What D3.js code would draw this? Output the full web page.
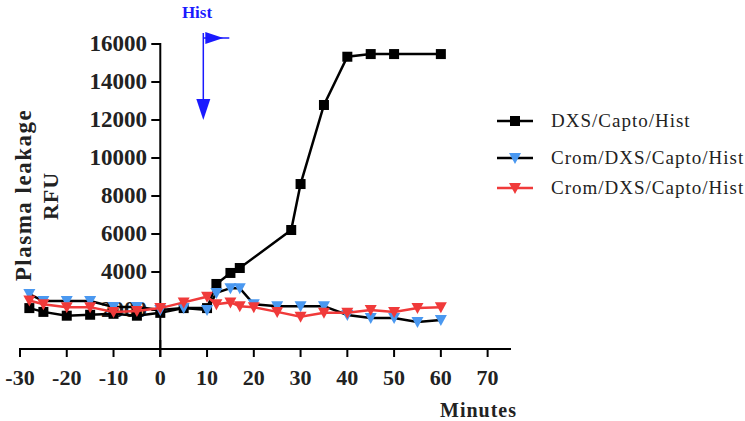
<!doctype html>
<html>
<head>
<meta charset="utf-8">
<script src="https://cdn.jsdelivr.net/npm/d3@7"></script>
<style>
  body { margin: 0; background: #fff; }
  text { font-family: "Liberation Serif", "Times New Roman", serif; }
</style>
</head>
<body>
<script>
// data
var dxsMinutes = [-28, -25, -20, -15, -10, -5, 0, 5, 10, 12, 15, 17, 28, 30, 35, 40, 45, 50, 60]
var dxsValues = [2100, 1900, 1700, 1750, 1800, 1700, 1850, 2100, 2100, 3370, 3950, 4210, 6210, 8630, 12790, 15330, 15470, 15470, 15470]
var cromMinutes = [-28, -25, -20, -15, -10, -5, 0, 5, 10, 12, 15, 17, 20, 25, 30, 35, 40, 45, 50, 55, 60]
var cromBlue = [2840, 2470, 2470, 2470, 2160, 2160, 2000, 2100, 2000, 2900, 3150, 3150, 2300, 2200, 2200, 2200, 1740, 1580, 1580, 1370, 1470]
var cromRed = [2500, 2300, 2150, 2150, 1900, 1950, 2100, 2400, 2700, 2300, 2400, 2200, 2150, 1900, 1650, 1850, 1850, 2000, 1900, 2100, 2150]
var xTicks = [-30, -20, -10, 0, 10, 20, 30, 40, 50, 60, 70]
var yTicks = [2000, 4000, 6000, 8000, 10000, 12000, 14000, 16000]
var legendLabels = ["DXS/Capto/Hist", "Crom/DXS/Capto/Hist", "Crom/DXS/Capto/Hist"]

var width = 745
var height = 421
var svg = d3.select("body").append("svg")
	.attr("width", width)
	.attr("height", height)

var x = d3.scaleLinear().domain([-30, 75]).range([20, 511])
var y = d3.scaleLinear().domain([0, 16000]).range([348, 44])

// y tick labels (drawn first so the data covers the 2000 label)
svg.selectAll(".ylab")
	.data(yTicks)
	.enter()
	.append("text")
	.attr("x", 147)
	.attr("y", function(d) { return y(d) + 7 })
	.attr("text-anchor", "end")
	.attr("font-size", 23)
	.attr("font-weight", "bold")
	.attr("fill", "#222")
	.text(function(d) { return d })

// y axis
svg.append("line")
	.attr("x1", x(0)).attr("x2", x(0))
	.attr("y1", y(16000) - 1).attr("y2", y(0) + 2)
	.attr("stroke", "#000").attr("stroke-width", 2)
svg.selectAll(".ytick")
	.data(yTicks)
	.enter()
	.append("line")
	.attr("x1", x(0) - 9).attr("x2", x(0))
	.attr("y1", function(d) { return y(d) }).attr("y2", function(d) { return y(d) })
	.attr("stroke", "#000").attr("stroke-width", 2)

// x axis
svg.append("line")
	.attr("x1", x(-30) - 1).attr("x2", x(75))
	.attr("y1", y(0) + 1).attr("y2", y(0) + 1)
	.attr("stroke", "#000").attr("stroke-width", 2)
svg.selectAll(".xtick")
	.data(xTicks)
	.enter()
	.append("line")
	.attr("x1", function(d) { return x(d) }).attr("x2", function(d) { return x(d) })
	.attr("y1", y(0)).attr("y2", y(0) + 9)
	.attr("stroke", "#000").attr("stroke-width", 2)
svg.append("line")
	.attr("x1", x(0)).attr("x2", x(0))
	.attr("y1", y(0) - 8).attr("y2", y(0) + 9)
	.attr("stroke", "#000").attr("stroke-width", 2)
svg.selectAll(".xlab")
	.data(xTicks)
	.enter()
	.append("text")
	.attr("x", function(d) { return x(d) })
	.attr("y", 385)
	.attr("text-anchor", "middle")
	.attr("font-size", 22)
	.attr("font-weight", "bold")
	.attr("fill", "#222")
	.text(function(d) { return d })

// axis titles
svg.append("text")
	.attr("x", 517).attr("y", 417)
	.attr("text-anchor", "end")
	.attr("font-size", 20)
	.attr("font-weight", "bold")
	.attr("letter-spacing", 1)
	.attr("fill", "#222")
	.text("Minutes")
svg.append("text")
	.attr("transform", "translate(31,195) rotate(-90)")
	.attr("text-anchor", "middle")
	.attr("font-size", 23)
	.attr("font-weight", "bold")
	.attr("letter-spacing", 1.5)
	.attr("fill", "#222")
	.text("Plasma leakage")
svg.append("text")
	.attr("transform", "translate(58,196) rotate(-90)")
	.attr("text-anchor", "middle")
	.attr("font-size", 22)
	.attr("font-weight", "bold")
	.attr("letter-spacing", 1)
	.attr("fill", "#222")
	.text("RFU")

var line = d3.line()
	.x(function(d) { return x(d[0]) })
	.y(function(d) { return y(d[1]) })

function triangle(g, cx, cy, color) {
	g.append("path")
		.attr("d", "M" + (cx - 6) + "," + (cy - 5) + "L" + (cx + 6) + "," + (cy - 5) + "L" + cx + "," + (cy + 6) + "Z")
		.attr("fill", color)
}

// DXS/Capto/Hist
var dxs = d3.zip(dxsMinutes, dxsValues)
svg.append("path")
	.datum(dxs)
	.attr("d", line)
	.attr("fill", "none").attr("stroke", "#000").attr("stroke-width", 2.5)
svg.selectAll(".sq")
	.data(dxs)
	.enter()
	.append("rect")
	.attr("x", function(d) { return x(d[0]) - 5 })
	.attr("y", function(d) { return y(d[1]) - 5 })
	.attr("width", 10).attr("height", 10)
	.attr("fill", "#000")

// Crom (blue markers, black line)
var blue = d3.zip(cromMinutes, cromBlue)
svg.append("path")
	.datum(blue)
	.attr("d", line)
	.attr("fill", "none").attr("stroke", "#000").attr("stroke-width", 2.5)
var gb = svg.append("g")
blue.forEach(function(d) { triangle(gb, x(d[0]), y(d[1]), "#4a98f0") })

// Crom (red)
var red = d3.zip(cromMinutes, cromRed)
svg.append("path")
	.datum(red)
	.attr("d", line)
	.attr("fill", "none").attr("stroke", "#f03a3a").attr("stroke-width", 2.5)
var gr = svg.append("g")
red.forEach(function(d) { triangle(gr, x(d[0]), y(d[1]), "#f03a3a") })

// Hist annotation
var hx = x(9.2)
var blueInk = "#1a1aff"
svg.append("text")
	.attr("x", 197).attr("y", 18)
	.attr("text-anchor", "middle")
	.attr("font-size", 17)
	.attr("font-weight", "bold")
	.attr("fill", blueInk)
	.text("Hist")
svg.append("line")
	.attr("x1", hx).attr("x2", hx)
	.attr("y1", 33).attr("y2", 108)
	.attr("stroke", blueInk).attr("stroke-width", 1.5)
svg.append("path")
	.attr("d", "M" + (hx - 7) + ",99L" + (hx + 7) + ",99L" + hx + ",120Z")
	.attr("fill", blueInk)
svg.append("path")
	.attr("d", "M" + (hx + 2) + ",32L" + (hx + 2) + ",44L" + (hx + 20) + ",38Z")
	.attr("fill", blueInk)
svg.append("line")
	.attr("x1", hx).attr("x2", hx + 26)
	.attr("y1", 38).attr("y2", 38)
	.attr("stroke", blueInk).attr("stroke-width", 1.5)

// legend
var legendY = [121, 158, 188]
var lineColors = ["#000", "#000", "#f03a3a"]
legendLabels.forEach(function(label, i) {
	svg.append("line")
		.attr("x1", 497).attr("x2", 533)
		.attr("y1", legendY[i]).attr("y2", legendY[i])
		.attr("stroke", lineColors[i]).attr("stroke-width", 2.5)
	if (i == 0) {
		svg.append("rect")
			.attr("x", 510).attr("y", legendY[i] - 5)
			.attr("width", 10).attr("height", 10)
			.attr("fill", "#000")
	} else {
		triangle(svg, 515, legendY[i], i == 1 ? "#4a98f0" : "#f03a3a")
	}
	svg.append("text")
		.attr("x", 551).attr("y", legendY[i] + 6)
		.attr("font-size", 19)
		.attr("letter-spacing", 1)
		.attr("fill", "#222")
		.text(label)
})
</script>
</body>
</html>
